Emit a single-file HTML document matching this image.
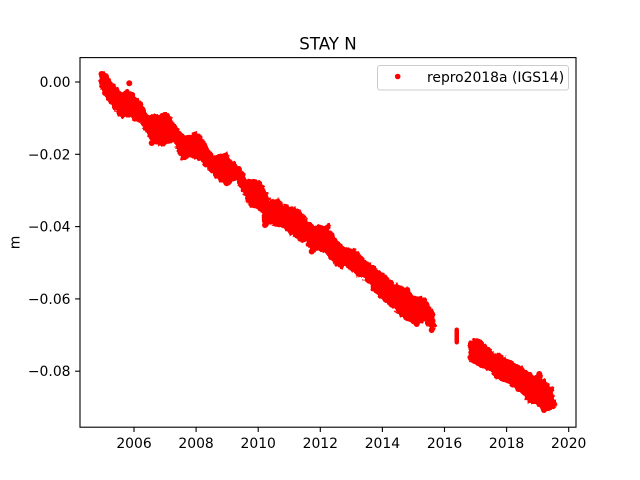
<!DOCTYPE html>
<html><head><meta charset="utf-8"><style>
html,body{margin:0;padding:0;background:#fff;}
svg{display:block;}
text{font-family:"DejaVu Sans","Liberation Sans",sans-serif;fill:#000;}
</style></head><body>
<svg width="640" height="480" viewBox="0 0 640 480" xmlns="http://www.w3.org/2000/svg">
<defs>
<filter id="rough" x="-5%" y="-5%" width="110%" height="110%">
<feTurbulence type="fractalNoise" baseFrequency="0.25" numOctaves="2" seed="3" result="n"/>
<feDisplacementMap in="SourceGraphic" in2="n" scale="6" xChannelSelector="R" yChannelSelector="G"/>
</filter>
</defs>
<rect width="640" height="480" fill="#fff"/>
<!-- data band -->
<g fill="#ff0000" stroke="#ff0000" stroke-width="1.5" stroke-linejoin="round" filter="url(#rough)">
<polygon points="100,75 102,72 105,72 108.3,76.7 115,86.7 121.7,93.3 128.3,90 131.7,93.3 140,101.7 148.3,115 156.7,115 166.7,113.3 171.7,120 178.3,130 183.3,135 190,135 196.7,131.7 203.3,140 213.3,156.7 226.7,151.7 230,160 240,166.7 246.7,180 255,180 260,181.7 263.3,186.7 270,200 280,200 283.3,205 293.3,206.7 300,211.7 306.7,220 316.7,226.7 328.3,224 330,230 336.7,240 346.7,248.3 356.7,250 363.3,260 376.7,268.3 383.3,273.3 393.3,284 406.7,288.3 413.3,296.7 425,298.3 430,306.7 434,315 435,326.7 431.7,332 430,327 423.3,321.7 416.7,325 403.3,318.3 396.7,311.7 386.7,303.3 380,297 373.3,291.7 366.7,280 356.7,275 346.7,266.7 336.7,266.7 330,256.7 320,250 311.7,251.7 306.7,243.3 296.7,238.3 286.7,230 273.3,223.3 265,225 260,210 250,206.7 243.3,193.3 236.7,180 226.7,185 216.7,178.3 210,170 200,160 190,156.7 181.7,160 178.3,151.7 173.3,141.7 161.7,145 151.7,143.3 148.3,135 140,121.7 130,116.7 120,116.7 110,103.3 101.7,91.7 100,85"/>
<polygon points="469.3,341.7 475,339 480,339.3 486.7,346.7 495,353.3 503.3,356.7 513.3,363.3 523.3,368.3 533.3,376.7 539.3,374 546.7,383.3 551.7,386.7 555,400 555.5,407 551.7,409.3 543.3,410 536.7,403.3 528.3,403.3 523.3,393.3 516.7,390 506.7,381.7 496.7,378.3 490,370 480,366.7 469.3,360"/>
</g>
<g fill="#ff0000">
<rect x="454.5" y="327.5" width="4.5" height="17" rx="2.2"/>
<circle cx="129.3" cy="83.3" r="3"/>
<circle cx="226.7" cy="183.3" r="3"/>
<circle cx="151.7" cy="143" r="3"/>
<circle cx="407.3" cy="290" r="3"/>
<circle cx="431.7" cy="330" r="3"/>
<circle cx="544" cy="410" r="3"/>
<circle cx="539.3" cy="374" r="3"/>
<circle cx="265" cy="225" r="3"/>
<circle cx="311.7" cy="251.5" r="3"/>
<circle cx="416.7" cy="324" r="3"/>
<circle cx="101.5" cy="74" r="3"/>
<circle cx="554" cy="404" r="3"/>
</g>
<!-- axes frame -->
<rect x="80" y="57.6" width="496" height="369.6" fill="none" stroke="#000" stroke-width="1.1"/>
<!-- ticks -->
<g stroke="#000" stroke-width="1.1">
<line x1="134" y1="427.2" x2="134" y2="432"/>
<line x1="196.1" y1="427.2" x2="196.1" y2="432"/>
<line x1="258.2" y1="427.2" x2="258.2" y2="432"/>
<line x1="320.3" y1="427.2" x2="320.3" y2="432"/>
<line x1="382.4" y1="427.2" x2="382.4" y2="432"/>
<line x1="444.5" y1="427.2" x2="444.5" y2="432"/>
<line x1="506.6" y1="427.2" x2="506.6" y2="432"/>
<line x1="568.7" y1="427.2" x2="568.7" y2="432"/>
<line x1="80" y1="82" x2="75.1" y2="82"/>
<line x1="80" y1="154.3" x2="75.1" y2="154.3"/>
<line x1="80" y1="226.6" x2="75.1" y2="226.6"/>
<line x1="80" y1="298.9" x2="75.1" y2="298.9"/>
<line x1="80" y1="371.2" x2="75.1" y2="371.2"/>
</g>
<g font-size="13.9" text-anchor="middle">
<text x="134" y="448">2006</text>
<text x="196.1" y="448">2008</text>
<text x="258.2" y="448">2010</text>
<text x="320.3" y="448">2012</text>
<text x="382.4" y="448">2014</text>
<text x="444.5" y="448">2016</text>
<text x="506.6" y="448">2018</text>
<text x="568.7" y="448">2020</text>
</g>
<g font-size="13.9" text-anchor="end">
<text x="70.5" y="87">0.00</text>
<text x="70.5" y="159.3">−0.02</text>
<text x="70.5" y="231.6">−0.04</text>
<text x="70.5" y="303.9">−0.06</text>
<text x="70.5" y="376.2">−0.08</text>
</g>
<text x="0" y="0" font-size="13.9" text-anchor="middle" transform="translate(19.5,242.5) rotate(-90)">m</text>
<text x="328" y="49.5" font-size="16.67" text-anchor="middle">STAY N</text>
<!-- legend -->
<rect x="377.5" y="65.5" width="191" height="24.5" rx="2.5" fill="#fff" fill-opacity="0.8" stroke="#cccccc" stroke-width="1"/>
<circle cx="397.7" cy="76.5" r="2.8" fill="#ff0000"/>
<text x="427" y="82" font-size="13.9">repro2018a (IGS14)</text>
</svg>
</body></html>
